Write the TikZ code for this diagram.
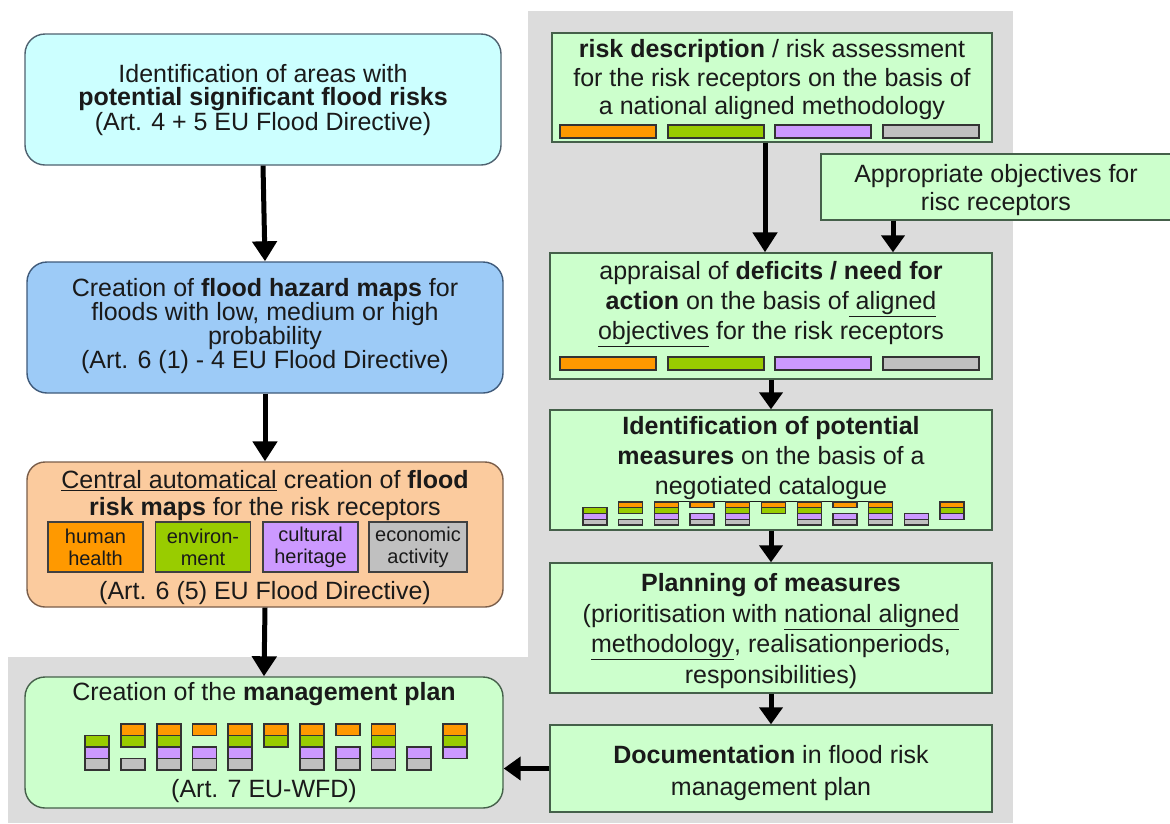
\documentclass[tikz,border=0pt]{standalone}
\usepackage{fontspec}
\setmainfont{Liberation Sans}
\usetikzlibrary{arrows.meta}
\definecolor{bggray}{HTML}{DCDCDC}
\definecolor{cyanfill}{HTML}{CCFFFF}
\definecolor{bluefill}{HTML}{9DCBF7}
\definecolor{peach}{HTML}{FBCB9E}
\definecolor{mint}{HTML}{CCFFCC}
\definecolor{cOr}{HTML}{FF9900}
\definecolor{cGr}{HTML}{99CC00}
\definecolor{cPu}{HTML}{CC99FF}
\definecolor{cGy}{HTML}{C0C0C0}
\definecolor{txt}{HTML}{1A1A1A}
\definecolor{edgeG}{HTML}{45604A}
\definecolor{edgeC}{HTML}{4F6270}
\definecolor{edgeB}{HTML}{3F5A7A}
\definecolor{edgeP}{HTML}{7A5E4A}
\colorlet{lay1}{cOr}
\colorlet{lay2}{cGr}
\colorlet{lay3}{cPu}
\colorlet{lay4}{cGy}
\newcommand\ulx[1]{\underline{#1}}
\newcommand\drawstacks[6]{% x0, dx, ytop, w, h, linewidth
  \foreach \lay [count=\i from 0] in {{2,3,4},{1,2,4},{1,2,3,4},{1,3,4},{1,2,3,4},{1,2},{1,2,3,4},{1,3,4},{1,2,3,4},{3,4},{1,2,3}}{
    \foreach \l in \lay {
      \draw[fill=lay\l, draw=black!80, line width=#6] ({#1+\i*#2},{#3+(\l-1)*#5}) rectangle ++(#4,#5);
    }
  }}
\tikzset{
  lbox/.style={rectangle, rounded corners=20pt, line width=1.4pt, inner sep=0pt},
  rbox/.style={rectangle, draw=edgeG, fill=mint, line width=1.4pt, inner sep=0pt},
  tnode/.style={align=center, inner sep=0pt, text=txt, font={\fontsize{25}{23}\selectfont}},
  rtext/.style={align=center, inner sep=0pt, text=txt},
  sub/.style={rectangle, draw=black!75, line width=1.4pt, minimum width=95pt, minimum height=50pt, inner sep=0pt, align=center, text=txt, font={\fontsize{20}{22}\selectfont}},
  arr/.style={line width=5pt, draw=black, -{Triangle[width=24pt,length=20pt]}},
  sarr/.style={line width=5pt, draw=black, -{Triangle[width=23pt,length=17pt]}},
  bar/.style={draw=black!80, line width=1.4pt}
}
\begin{document}
\begin{tikzpicture}[x=1pt,y=-1pt]
\useasboundingbox (0,0) rectangle (1170,823);
\fill[white] (0,0) rectangle (1170,823);
% gray backgrounds
\fill[bggray] (528,11) rectangle (1013,823);
\fill[bggray] (8,657) rectangle (528,823);

% ---- left column ----
\node[lbox, draw=edgeC, fill=cyanfill, minimum width=476pt, minimum height=131pt] (b1) at (263,99.5) {};
\node[tnode] (t1) at (263,100) {Identification of areas with\\\textbf{potential significant flood risks}\\(Art. 4 + 5 EU Flood Directive)};

\node[lbox, draw=edgeB, fill=bluefill, minimum width=476pt, minimum height=131pt] (b2) at (265,327.5) {};
\node[tnode] (t2) at (265,326) {Creation of \textbf{flood hazard maps} for\\floods with low, medium or high\\probability\\(Art. 6 (1) - 4 EU Flood Directive)};

\node[lbox, rounded corners=18pt, draw=edgeP, fill=peach, minimum width=476pt, minimum height=145pt] (b3) at (265,534.5) {};
\node[tnode, font={\fontsize{25}{27}\selectfont}] (t3) at (265,496) {\ulx{Central automatical} creation of \textbf{flood}\\\textbf{risk maps} for the risk receptors};
\node[sub, fill=cOr] (hh) at (95.5,547) {human\\health};
\node[sub, fill=cGr] (env) at (203,547) {environ-\\ment};
\node[sub, fill=cPu] (cul) at (310.5,547) {cultural\\heritage};
\node[sub, fill=cGy, minimum width=98pt] (eco) at (418,547) {economic\\activity};
\node[tnode] (t3b) at (265,593) {(Art. 6 (5) EU Flood Directive)};

\node[lbox, draw=edgeG, fill=mint, minimum width=478pt, minimum height=131pt] (b4) at (264,742.5) {};
\node[tnode] (t4) at (264,694) {Creation of the \textbf{management plan}};
\drawstacks{85}{35.8}{724}{24}{11.5}{1.8pt}
\node[tnode] (t4b) at (264,791) {(Art. 7 EU-WFD)};

% ---- right column ----
\node[rbox, minimum width=440pt, minimum height=109pt] (rd) at (772,87.5) {};
\node[rtext, font={\fontsize{25}{28.5}\selectfont}] (trd) at (772,80) {\textbf{risk description} / risk assessment\\for the risk receptors on the basis of\\a national aligned methodology};

\node[rbox, minimum width=350pt, minimum height=66pt] (obj) at (996,187) {};
\node[rtext, font={\fontsize{25}{28}\selectfont}] (tobj) at (996,190) {Appropriate objectives for\\risc receptors};

\node[rbox, minimum width=442pt, minimum height=126pt] (apr) at (771,316) {};
\node[rtext, font={\fontsize{25}{30}\selectfont}] (tapr) at (771,304) {appraisal of \textbf{deficits / need for}\\\textbf{action} on the basis of\ulx{\ aligned}\\\ulx{objectives} for the risk receptors};

\node[rbox, minimum width=442pt, minimum height=120pt] (mea) at (771,470) {};
\node[rtext, font={\fontsize{25}{30}\selectfont}] (tmea) at (771,459) {\textbf{Identification of potential}\\\textbf{measures} on the basis of a\\\ulx{negotiated catalogue}};
\drawstacks{583}{35.7}{502}{24}{5.75}{1.3pt}

\node[rbox, minimum width=442pt, minimum height=130pt] (pla) at (771,628) {};
\node[rtext, font={\fontsize{25}{30.5}\selectfont}] (tpla) at (771,631) {\textbf{Planning of measures}\\(prioritisation with \ulx{national aligned}\\\ulx{methodology}, realisationperiods,\\responsibilities)};

\node[rbox, minimum width=442pt, minimum height=87pt] (doc) at (771,768.5) {};
\node[rtext, font={\fontsize{25}{32}\selectfont}] (tdoc) at (771,773) {\textbf{Documentation} in flood risk\\management plan};

% colour bars
\foreach \xa/\c in {560/cOr,668/cGr,775/cPu,883/cGy}{
  \draw[bar, fill=\c] (\xa,125) rectangle ++(96,13);
  \draw[bar, fill=\c] (\xa,357) rectangle ++(96,13);
}

% ---- connectors ----
\coordinate (xa) at (765,0);
\coordinate (xb) at (893,0);
\draw[arr] (b1.south) -- (b2.north);
\draw[arr] (b2.south) -- (b3.north);
\draw[arr] (b3.south) -- (b4.north);
\draw[arr] (rd.south -| xa) -- (apr.north -| xa);
\draw[sarr] (obj.south -| xb) -- (apr.north -| xb);
\draw[sarr] (apr.south) -- (mea.north);
\draw[sarr] (mea.south) -- (pla.north);
\draw[sarr] (pla.south) -- (doc.north);
\draw[sarr] (doc.west) -- (doc.west -| b4.east);
\end{tikzpicture}
\end{document}
